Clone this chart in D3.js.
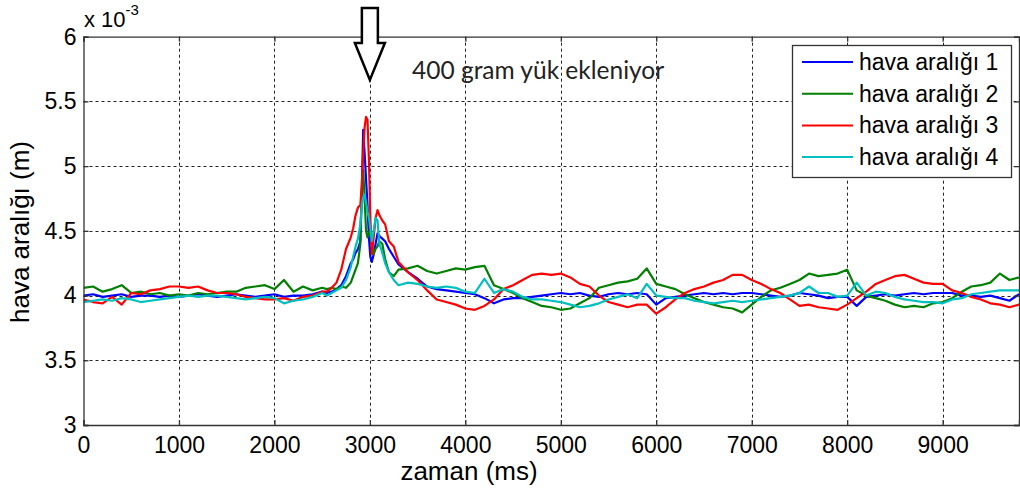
<!DOCTYPE html>
<html>
<head>
<meta charset="utf-8">
<script src="https://cdn.jsdelivr.net/npm/d3@7"></script>
<style>
  html, body { margin: 0; padding: 0; background: #fff; }
  svg { display: block; font-family: "Liberation Sans", Arial, sans-serif; }
</style>
</head>
<body>
<svg id="chart" width="1020" height="495"></svg>
<script>
// time axis (ms): coarse before/after the load step, dense around it
const timeMs = [
  0,100,200,300,400,500,600,700,800,900,1000,1100,1200,1300,1400,1500,1600,1700,1800,1900,2000,2100,2200,2300,2400,2500,
  2550,2600,2650,2700,2750,2800,2825,2850,2875,2900,2915,2930,2945,2960,2975,2990,3005,3020,3040,3060,3080,3100,3130,3160,3200,3250,3300,
  3400,3500,3600,3700,3800,3900,4000,4100,4200,4300,4400,4500,4600,4700,4800,4900,5000,5100,5200,5300,5400,5500,5600,5700,5800,5900,
  6000,6100,6200,6300,6400,6500,6600,6700,6800,6900,7000,7100,7200,7300,7400,7500,7600,7700,7800,7900,
  8000,8100,8200,8300,8400,8500,8600,8700,8800,8900,9000,9100,9200,9300,9400,9500,9600,9700,9800
];

// air gap readings, in units of 1e-3 m
const gap1 = [
  4.00,4.01,3.99,4.00,4.01,3.99,4.00,4.00,3.99,4.00,3.99,4.00,4.01,4.00,3.99,4.00,4.01,4.00,3.99,4.00,4.01,3.99,4.00,4.00,4.01,4.03,
  4.02,4.03,4.05,4.08,4.15,4.25,4.28,4.33,4.36,4.42,4.80,5.28,5.10,4.90,4.70,4.45,4.30,4.26,4.32,4.40,4.48,4.46,4.44,4.42,4.36,4.30,4.24,
  4.18,4.13,4.07,4.05,4.04,4.03,4.02,4.01,3.98,3.94,3.97,3.98,3.98,3.99,4.00,4.01,4.02,4.01,4.02,4.00,3.99,4.01,4.02,4.01,4.02,4.01,
  3.93,3.98,3.99,4.00,4.01,4.02,4.01,4.02,4.01,4.02,4.02,4.01,4.00,3.99,4.00,4.02,4.01,4.00,3.98,3.99,
  3.99,3.92,3.99,4.00,4.01,4.00,4.01,4.02,4.01,4.02,4.02,4.02,4.00,4.00,3.99,4.00,3.98,3.96,4.01
];
const gap2 = [
  4.06,4.07,4.03,4.05,4.08,4.02,4.03,4.01,4.02,4.00,4.01,4.00,4.02,4.01,4.02,4.03,4.03,4.06,4.07,4.08,4.05,4.12,4.03,4.07,4.04,4.06,
  4.05,4.06,4.05,4.07,4.06,4.10,4.15,4.20,4.25,4.40,4.80,4.97,4.75,4.50,4.45,4.48,4.52,4.40,4.32,4.36,4.38,4.42,4.40,4.28,4.18,4.15,4.20,
  4.21,4.23,4.19,4.17,4.19,4.21,4.20,4.22,4.23,4.08,4.05,4.02,3.98,3.95,3.92,3.91,3.89,3.90,3.94,3.98,4.06,4.08,4.10,4.11,4.13,4.21,
  4.09,4.07,4.05,4.01,3.98,3.95,3.93,3.91,3.90,3.87,3.93,3.99,4.04,4.06,4.09,4.12,4.17,4.15,4.16,4.17,
  4.20,4.04,4.00,3.98,3.96,3.93,3.91,3.92,3.91,3.94,3.95,3.98,4.03,4.07,4.08,4.10,4.17,4.12,4.14
];
const gap3 = [
  3.97,3.95,3.94,3.99,3.93,4.02,4.01,4.04,4.05,4.07,4.07,4.06,4.07,4.04,4.02,4.02,4.01,3.99,3.98,3.97,3.97,3.98,3.96,3.99,4.00,4.03,
  4.03,4.06,4.10,4.20,4.36,4.45,4.52,4.62,4.68,4.70,4.85,5.10,5.30,5.38,5.36,5.05,4.60,4.32,4.45,4.60,4.66,4.62,4.58,4.55,4.42,4.38,4.26,
  4.18,4.12,4.04,3.97,3.95,3.93,3.90,3.89,3.92,3.97,4.05,4.08,4.12,4.16,4.17,4.16,4.17,4.14,4.09,4.07,4.00,3.95,3.93,3.91,3.93,3.93,
  3.86,3.91,3.97,4.02,4.05,4.07,4.10,4.12,4.16,4.16,4.12,4.09,4.05,4.02,3.97,3.92,3.93,3.91,3.90,3.89,
  3.93,3.98,4.03,4.09,4.12,4.15,4.16,4.13,4.10,4.09,4.09,4.04,4.02,3.99,3.97,3.94,3.93,3.91,3.93
];
const gap4 = [
  3.95,3.96,3.97,3.96,3.98,3.97,3.95,3.96,3.97,3.98,3.99,4.00,3.99,4.00,4.00,3.99,3.98,3.97,3.98,3.99,3.98,3.94,3.96,3.97,3.99,4.02,
  4.00,4.02,4.04,4.06,4.12,4.22,4.30,4.38,4.44,4.55,4.70,4.76,4.78,4.72,4.65,4.60,4.52,4.42,4.50,4.60,4.58,4.40,4.33,4.25,4.18,4.12,4.08,
  4.10,4.09,4.07,4.06,4.07,4.06,4.03,4.02,4.13,4.02,4.05,4.03,3.99,3.97,3.97,3.96,3.95,3.93,3.91,3.92,3.94,3.97,3.99,4.01,3.98,4.09,
  4.00,3.99,3.98,3.98,3.96,3.95,3.94,3.95,3.96,3.95,3.96,3.97,3.98,3.99,4.00,4.02,4.07,4.02,4.02,3.99,
  4.00,4.10,4.00,4.03,4.02,3.99,3.97,3.96,3.95,3.95,3.94,3.97,3.98,4.01,4.02,4.03,4.04,4.04,4.04
];

const seriesNames = ["hava aralığı 1", "hava aralığı 2", "hava aralığı 3", "hava aralığı 4"];
const seriesColors = ["#0000ff", "#008000", "#ff0000", "#00bfbf"];
const xTicks = [0,1000,2000,3000,4000,5000,6000,7000,8000,9000];
const yTicks = [3,3.5,4,4.5,5,5.5,6];
const xDomain = [0, 9800];
const yDomain = [3, 6];
const loadTime = 3000;
const noteText = "400 gram yük ekleniyor";

const series = [gap1, gap2, gap3, gap4].map((vals, i) => ({
  name: seriesNames[i],
  color: seriesColors[i],
  points: vals.map((v, j) => ({ t: timeMs[j], v }))
}));

const svg = d3.select("#chart");
const plotLeft = 83.5, plotRight = 1019, plotTop = 36.7, plotBottom = 425;

const x = d3.scaleLinear().domain(xDomain).range([plotLeft, plotRight]);
const y = d3.scaleLinear().domain(yDomain).range([plotBottom, plotTop]);

// dashed grid
const grid = svg.append("g").attr("stroke", "#222").attr("stroke-width", 1).attr("stroke-dasharray", "3,3");
grid.selectAll("line.gx").data(xTicks.filter(d => d > xDomain[0])).join("line")
  .attr("x1", d => Math.round(x(d)) + 0.5).attr("x2", d => Math.round(x(d)) + 0.5)
  .attr("y1", plotTop).attr("y2", plotBottom);
grid.selectAll("line.gy").data(yTicks.filter(d => d > yDomain[0] && d < yDomain[1])).join("line")
  .attr("x1", plotLeft).attr("x2", plotRight)
  .attr("y1", d => Math.round(y(d)) + 0.5).attr("y2", d => Math.round(y(d)) + 0.5);

// data lines
svg.append("clipPath").attr("id", "plotclip").append("rect")
  .attr("x", plotLeft).attr("y", plotTop).attr("width", plotRight - plotLeft).attr("height", plotBottom - plotTop);

const line = d3.line().x(d => x(d.t)).y(d => y(d.v)).curve(d3.curveLinear);
svg.append("g").attr("clip-path", "url(#plotclip)")
  .selectAll("path").data(series).join("path")
  .attr("fill", "none")
  .attr("stroke", d => d.color)
  .attr("stroke-width", 2.2)
  .attr("stroke-linejoin", "round")
  .attr("d", d => line(d.points));

// axes box with inward ticks on all four sides
const tickLen = 5;
const axisColor = "#333";
const axBottom = svg.append("g").attr("transform", `translate(0,${plotBottom})`)
  .call(d3.axisBottom(x).tickValues(xTicks).tickSize(-tickLen).tickPadding(12).tickFormat(d3.format("d")));
const axTop = svg.append("g").attr("transform", `translate(0,${plotTop})`)
  .call(d3.axisTop(x).tickValues(xTicks).tickSize(-tickLen).tickFormat(""));
const axLeft = svg.append("g").attr("transform", `translate(${plotLeft},0)`)
  .call(d3.axisLeft(y).tickValues(yTicks).tickSize(-tickLen).tickPadding(7).tickFormat(d => d3.format("")(d)));
const axRight = svg.append("g").attr("transform", `translate(${plotRight},0)`)
  .call(d3.axisRight(y).tickValues(yTicks).tickSize(-tickLen).tickFormat(""));

[axBottom, axTop, axLeft, axRight].forEach(g => {
  g.select(".domain").attr("stroke", axisColor).attr("stroke-width", 1.3);
  g.selectAll(".tick line").attr("stroke", axisColor).attr("stroke-width", 1.3);
  g.selectAll(".tick text").attr("fill", "#000").style("font-size", "23px")
    .style("font-family", "'Liberation Sans', Arial, sans-serif");
});
axBottom.selectAll(".tick text").attr("dy", "0.71em");

// exponent label
const expo = svg.append("text").attr("x", 84).attr("y", 27)
  .style("font-size", "22px").attr("fill", "#000");
expo.append("tspan").text("x 10");
expo.append("tspan").attr("dy", -12).style("font-size", "15px").text("-3");

// axis titles
svg.append("text")
  .attr("transform", `translate(29,${232}) rotate(-90)`)
  .attr("text-anchor", "middle")
  .style("font-size", "26px").attr("fill", "#000")
  .text("hava aralığı (m)");
svg.append("text")
  .attr("x", 469).attr("y", 480)
  .attr("text-anchor", "middle")
  .style("font-size", "26px").attr("fill", "#000")
  .text("zaman (ms)");

// load marker arrow (outline) above the 3000 ms line
const ax0 = x(loadTime);
const arrowPts = [
  [ax0 - 8, 8], [ax0 + 8, 8], [ax0 + 8, 43], [ax0 + 15, 43],
  [ax0, 80], [ax0 - 15, 43], [ax0 - 8, 43]
];
svg.append("path")
  .attr("d", d3.line()(arrowPts) + "Z")
  .attr("fill", "#fff").attr("stroke", "#000").attr("stroke-width", 2.5)
  .attr("stroke-linejoin", "miter");

svg.append("text")
  .attr("x", 412).attr("y", 79)
  .style("font-family", "Lato, 'Open Sans', sans-serif")
  .style("font-size", "24.5px").attr("fill", "#222")
  .text(noteText);

// legend
const legX = 792, legY = 45, legW = 219, legH = 132;
const legend = svg.append("g");
legend.append("rect").attr("x", legX + 0.5).attr("y", legY + 0.5)
  .attr("width", legW).attr("height", legH)
  .attr("fill", "#fff").attr("stroke", axisColor).attr("stroke-width", 1.3);
const rows = legend.selectAll("g.row").data(series).join("g")
  .attr("transform", (d, i) => `translate(0,${62 + i * 31.7})`);
rows.append("line").attr("x1", 802).attr("x2", 853).attr("y1", 0).attr("y2", 0)
  .attr("stroke", d => d.color).attr("stroke-width", 2);
rows.append("text").attr("x", 859).attr("y", 0).attr("dy", "0.35em")
  .style("font-size", "23px").attr("fill", "#000").text(d => d.name);
</script>
</body>
</html>
